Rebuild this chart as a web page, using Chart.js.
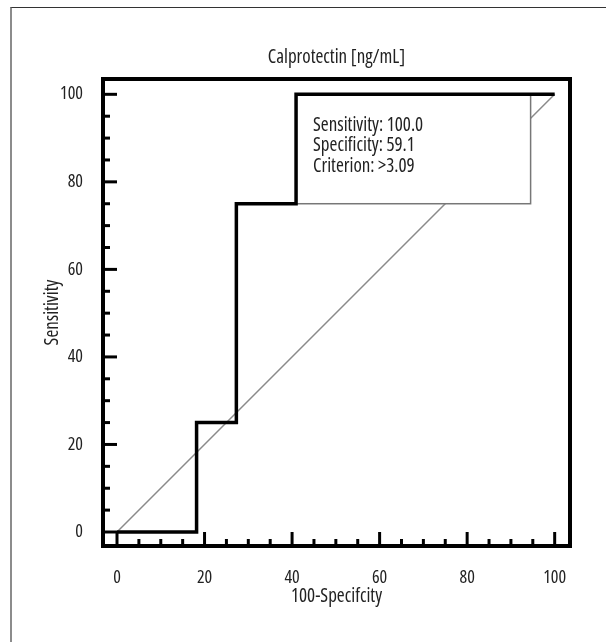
<!DOCTYPE html>
<html>
<head>
<meta charset="utf-8">
<script src="https://cdn.jsdelivr.net/npm/chart.js@4"></script>
<style>
  html, body { margin: 0; padding: 0; background: #fff; }
  #wrap { position: relative; width: 606px; height: 642px; overflow: hidden; }
  #edge { position: absolute; left: 10px; top: 7px; right: -5px; bottom: -5px; border-left: 2px solid #8c8c8c; border-top: 1px solid #333; }
  canvas { position: absolute; left: 0; top: 0; }
</style>
</head>
<body>
<div id="wrap">
  <div id="edge"></div>
  <canvas id="rocChart" width="606" height="642"></canvas>
</div>
<script>
// ROC curve (100-Specificity vs Sensitivity)
var falsePos = [0, 18.18, 27.27, 40.91, 100];
var sensitivity = [0, 25, 75, 100, 100];

// reference diagonal
var diagX = [0, 100];
var diagY = [0, 100];

var tickValues = [0, 5, 10, 15, 20, 25, 30, 35, 40, 45, 50, 55, 60, 65, 70, 75, 80, 85, 90, 95, 100];

// criterion box
var boxX = [40.91, 94.5];
var boxY = [75, 100];
var boxLines = ['Sensitivity: 100.0', 'Specificity: 59.1', 'Criterion: >3.09'];

var fontFamily = "'Open Sans', 'DejaVu Sans Condensed', sans-serif";
Chart.defaults.font.family = fontFamily;
Chart.defaults.font.weight = 'condensed';   // picks the condensed face
Chart.defaults.color = '#222';

function toPoints(xs, ys) {
    return xs.map(function (v, i) { return { x: v, y: ys[i] }; });
}

var rocPlugin = {
    id: 'rocExtras',
    // box goes over the diagonal but under the ROC line
    afterDatasetDraw: function (chart, args) {
        if (args.index !== 1) return;
        var xs = chart.scales.x, ys = chart.scales.y, ctx = chart.ctx;
        var l = xs.getPixelForValue(boxX[0]), r = xs.getPixelForValue(boxX[1]);
        var t = ys.getPixelForValue(boxY[1]), b = ys.getPixelForValue(boxY[0]);
        ctx.save();
        ctx.fillStyle = '#fff';
        ctx.fillRect(l, t, r - l, b - t);
        ctx.strokeStyle = '#777';
        ctx.lineWidth = 1.5;
        ctx.strokeRect(l, t, r - l, b - t);
        ctx.fillStyle = '#222';
        ctx.font = 'condensed 19px ' + fontFamily;
        ctx.textBaseline = 'middle';
        boxLines.forEach(function (s, i) {
            ctx.fillText(s, l + 17, t + 31 + i * 20.5);
        });
        ctx.restore();
    },
    // inward ticks and the heavy frame
    afterDraw: function (chart) {
        var a = chart.chartArea, ctx = chart.ctx;
        var xs = chart.scales.x, ys = chart.scales.y;
        ctx.save();
        ctx.strokeStyle = '#000';
        ctx.lineWidth = 3;
        tickValues.forEach(function (v) {
            var len = v % 20 === 0 ? 14 : 7;
            var px = xs.getPixelForValue(v);
            ctx.beginPath();
            ctx.moveTo(px, a.bottom);
            ctx.lineTo(px, a.bottom - len);
            ctx.stroke();
            var py = ys.getPixelForValue(v);
            ctx.beginPath();
            ctx.moveTo(a.left, py);
            ctx.lineTo(a.left + len, py);
            ctx.stroke();
        });
        ctx.lineWidth = 4;
        ctx.strokeRect(a.left, a.top, a.right - a.left, a.bottom - a.top);
        ctx.restore();
    }
};

var ctx = document.getElementById('rocChart').getContext('2d');

var rocChart = new Chart(ctx, {
    type: 'scatter',
    data: {
        datasets: [{
            label: 'Calprotectin',
            data: toPoints(falsePos, sensitivity),
            showLine: true,
            stepped: true,
            borderColor: '#000',
            borderWidth: 3.5,
            pointRadius: 0,
            fill: false
        }, {
            label: 'Diagonal',
            data: toPoints(diagX, diagY),
            showLine: true,
            borderColor: '#8a8a8a',
            borderWidth: 1.5,
            pointRadius: 0,
            fill: false
        }]
    },
    options: {
        responsive: false,
        animation: false,
        layout: {
            padding: { left: 0, right: 36, top: 0, bottom: 0 }
        },
        plugins: {
            legend: { display: false },
            tooltip: { enabled: false },
            title: {
                display: true,
                fullSize: false,
                text: 'Calprotectin [ng/mL]',
                font: { size: 19, weight: 'condensed' },
                color: '#222',
                padding: { top: 46.6, bottom: 9.6 }
            }
        },
        scales: {
            x: {
                type: 'linear',
                min: -3.2,
                max: 103.5,
                afterBuildTicks: function (scale) {
                    scale.ticks = tickValues.map(function (v) { return { value: v }; });
                },
                afterFit: function (scale) { scale.height = 96; },
                grid: { display: false },
                border: { display: false },
                ticks: {
                    padding: 13,
                    font: { size: 18 },
                    color: '#222',
                    autoSkip: false,
                    maxRotation: 0,
                    callback: function (v) { return v % 20 === 0 ? v : ''; }
                },
                title: {
                    display: true,
                    text: '100-Specifcity',
                    font: { size: 19 },
                    color: '#222',
                    padding: { top: 0, bottom: 33.6 }
                }
            },
            y: {
                type: 'linear',
                min: -3.2,
                max: 103.5,
                afterBuildTicks: function (scale) {
                    scale.ticks = tickValues.map(function (v) { return { value: v }; });
                },
                afterFit: function (scale) { scale.width = 103; },
                grid: { display: false },
                border: { display: false },
                ticks: {
                    padding: 12,
                    font: { size: 18 },
                    color: '#222',
                    autoSkip: false,
                    callback: function (v) { return v % 20 === 0 ? v : ''; }
                },
                title: {
                    display: true,
                    text: 'Sensitivity',
                    font: { size: 19 },
                    color: '#222',
                    padding: { top: 41.6, bottom: 0 }
                }
            }
        }
    },
    plugins: [rocPlugin]
});
</script>
</body>
</html>
